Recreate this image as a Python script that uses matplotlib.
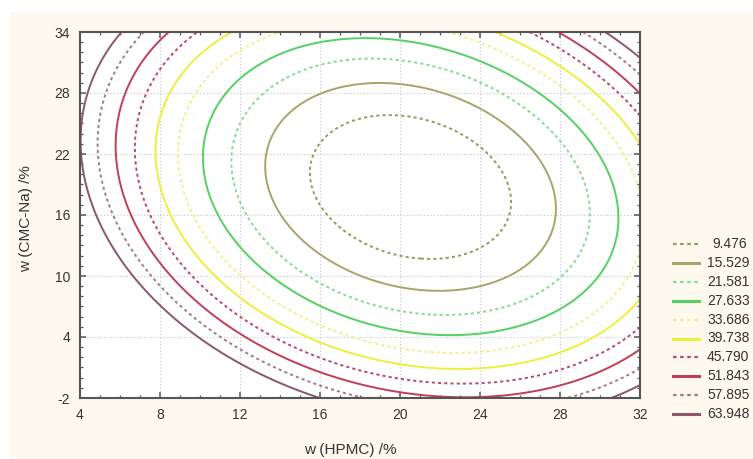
import numpy as np
import matplotlib
matplotlib.use("Agg")
import matplotlib.pyplot as plt
from matplotlib.lines import Line2D
from matplotlib.patches import Rectangle

plt.rcParams['font.family'] = ['Liberation Sans', 'DejaVu Sans']
plt.rcParams['axes.unicode_minus'] = False

# contour levels shown in the legend
levels = [9.476, 15.529, 21.581, 27.633, 33.686, 39.738, 45.790, 51.843, 57.895, 63.948]
colors = ['#9c975c', '#a9a36c', '#86dc8e', '#55d063', '#f3ef8a',
          '#eeee3c', '#b94a66', '#bf3f5a', '#a27a88', '#8a5866']
dotted = [True, False, True, False, True, False, True, False, True, False]

# points: (x = w(HPMC), y = w(CMC-Na))
pts_9 = [(15.4, 20.5), (15.4, 18.8), (16.3, 15.8), (18.0, 12.6), (20.0, 11.8), (21.8, 11.25),
         (23.5, 11.9), (25.6, 15.8), (25.5, 17.4), (25.5, 18.8), (24.3, 22.4), (23.5, 23.6),
         (22.3, 24.7), (20.0, 25.8), (18.5, 25.8), (16.3, 24.1)]
pts_15 = [(13.25, 21.1), (13.3, 18.8), (14.0, 15.8), (15.8, 12.6), (17.5, 10.6), (20.0, 8.6),
          (22.0, 8.1), (24.0, 8.6), (25.5, 10.0), (27.0, 13.2), (27.75, 16.2), (27.7, 17.5),
          (26.0, 23.7), (24.0, 26.5), (20.0, 28.95), (17.9, 28.95), (15.5, 28.0), (14.0, 25.7)]
pts_21 = [(11.6, 23.9), (11.7, 20.6), (12.05, 17.5), (12.6, 15.5), (13.7, 12.6), (17.5, 8.0),
          (20.0, 6.5), (21.5, 5.9), (24.0, 6.4), (26.5, 8.0), (28.5, 10.9), (29.5, 14.2),
          (29.5, 17.4), (28.5, 21.3), (26.8, 25.5), (26.0, 27.3), (23.5, 29.3), (20.0, 31.1),
          (18.0, 31.25), (13.0, 28.0), (12.5, 27.5)]
pts_27 = [(12.9, 30.5), (10.9, 26.5), (10.25, 23.6), (10.15, 21.3), (10.55, 17.4), (11.0, 14.8),
          (12.9, 11.3), (12.5, 12.1), (15.8, 7.4), (20.0, 4.5), (21.5, 4.0), (24.8, 4.4),
          (28.2, 6.7), (30.2, 10.3), (30.8, 15.5), (30.7, 17.4), (29.8, 21.9), (26.8, 28.5),
          (26.0, 29.1), (23.5, 31.4), (18.0, 33.4)]
pts_33 = [(12.5, 32.7), (10.0, 28.2), (8.9, 22.6), (9.2, 17.4), (10.2, 13.9), (11.7, 10.9),
          (12.5, 9.6), (15.8, 5.4), (20.0, 3.0), (23.5, 2.6), (28.2, 5.0), (31.2, 9.3),
          (32.0, 12.6), (31.8, 18.8), (30.7, 23.6), (28.2, 27.8), (24.3, 32.7)]
pts_39 = [(11.6, 33.9), (9.4, 30.2), (8.05, 25.8), (7.8, 21.3), (8.05, 17.4), (8.7, 15.5),
          (9.7, 11.9), (11.4, 8.9), (12.9, 7.0), (15.8, 3.7), (20.0, 1.4), (23.5, 0.7),
          (28.2, 2.4), (30.7, 5.0), (32.0, 7.6), (31.9, 22.9), (31.0, 25.5), (28.5, 29.5),
          (24.8, 33.7)]
pts_45 = [(9.75, 33.7), (7.9, 30.2), (7.05, 24.6), (7.25, 19.9), (7.4, 17.4), (7.9, 14.2),
          (8.9, 10.9), (11.0, 7.0), (12.9, 4.6), (16.0, 1.8), (21.5, -0.6), (24.8, -0.5),
          (28.2, 1.4), (30.3, 3.7), (32.0, 4.9), (31.9, 26.7), (30.2, 29.5), (26.8, 33.7)]
pts_51 = [(8.4, 33.9), (6.4, 28.8), (5.9, 24.6), (5.9, 19.9), (6.2, 17.4), (7.25, 13.5),
          (8.75, 10.0), (10.55, 6.7), (12.9, 3.7), (20.0, -1.5), (24.0, -2.0), (28.2, -0.4),
          (32.0, 2.5), (31.9, 28.0), (30.2, 30.7), (28.0, 33.9)]
pts_57 = [(6.9, 33.4), (5.4, 28.8), (5.0, 24.6), (5.05, 19.9), (5.3, 17.4), (6.4, 14.2),
          (7.55, 10.9), (9.25, 7.6), (11.05, 4.7), (12.7, 2.5), (18.0, -1.9), (28.8, -0.9),
          (32.0, 0.4), (31.8, 30.2), (29.5, 33.7)]
pts_63 = [(5.9, 33.9), (4.9, 30.7), (4.25, 27.2), (4.0, 23.6), (4.5, 17.5), (4.9, 14.5),
          (5.55, 12.6), (6.75, 9.3), (7.9, 7.3), (9.05, 4.4), (11.05, 1.7), (12.75, 0.8),
          (15.8, -1.9), (32.0, -1.2), (31.9, 31.9), (30.6, 33.7)]
contour_pts = [pts_9, pts_15, pts_21, pts_27, pts_33, pts_39, pts_45, pts_51, pts_57, pts_63]

x_ticks = [4, 8, 12, 16, 20, 24, 28, 32]
y_ticks = [-2, 4, 10, 16, 22, 28, 34]


def basis(x, y):
    u = (np.asarray(x) - 18.0) / 14.0
    v = (np.asarray(y) - 16.0) / 18.0
    return np.stack([np.ones_like(u), u, v, u * u, u * v, v * v,
                     u ** 3, u * u * v, u * v * v, v ** 3], axis=-1)


# least-squares response surface through the read contour points
px, py, pz = [], [], []
for lev, pts in zip(levels, contour_pts):
    for x, y in pts:
        px.append(x)
        py.append(y)
        pz.append(lev)
coef, *_ = np.linalg.lstsq(basis(px, py), np.array(pz), rcond=None)

gx, gy = np.meshgrid(np.linspace(4, 32, 400), np.linspace(-2, 34, 400))
gz = basis(gx, gy) @ coef

fig = plt.figure(figsize=(7.53, 4.59), dpi=100, facecolor='white')
fig.patches.append(Rectangle((10 / 753, 0), 1, 447 / 459, transform=fig.transFigure,
                             facecolor='#fdf9ee', edgecolor='none', zorder=-10))

ax = fig.add_axes([80 / 753, 1 - 398 / 459, 560 / 753, 366 / 459])
ax.set_facecolor('white')

styles = [(0, (1.6, 1.6)) if d else 'solid' for d in dotted]
ax.contour(gx, gy, gz, levels=levels, colors=colors, linestyles=styles, linewidths=1.4)

ax.set_xlim(4, 32)
ax.set_ylim(-2, 34)
ax.set_xticks(x_ticks)
ax.set_yticks(y_ticks)
ax.set_xticks(np.arange(4, 33, 1), minor=True)
ax.set_yticks(np.arange(-2, 35, 1), minor=True)
ax.tick_params(which='both', direction='in', top=True, right=True, colors='#555555',
               labelcolor='#333333', labelsize=10, pad=7)
ax.tick_params(which='major', length=4, width=1.1)
ax.tick_params(which='minor', length=2.5, width=0.9)
ax.grid(True, which='major', linestyle=(0, (1, 2)), color='#c4c4c4', linewidth=0.8)
for sp in ax.spines.values():
    sp.set_color('#555555')
    sp.set_linewidth(1.5)

ax.set_xlabel('w (HPMC) /%', fontsize=11, color='#333333')
ax.xaxis.set_label_coords(0.482, -0.122)
ax.set_ylabel('w (CMC-Na) /%', fontsize=11, color='#333333')
ax.yaxis.set_label_coords(-0.084, 0.49)

# legend drawn in figure pixels on the right
for i, (lev, c, st) in enumerate(zip(levels, colors, styles)):
    yp = 1 - (244 + i * 18.9) / 459
    fig.add_artist(Line2D([673 / 753, 699 / 753], [yp, yp], transform=fig.transFigure,
                          color=c, linestyle=st, linewidth=2.2 if st == 'solid' else 1.6))
    xo = 712 if lev < 10 else 707
    fig.text(xo / 753, yp, f'{lev:.3f}', fontsize=10, color='#333333', va='center', ha='left')

fig.savefig('out.png', dpi=100, facecolor=fig.get_facecolor())
